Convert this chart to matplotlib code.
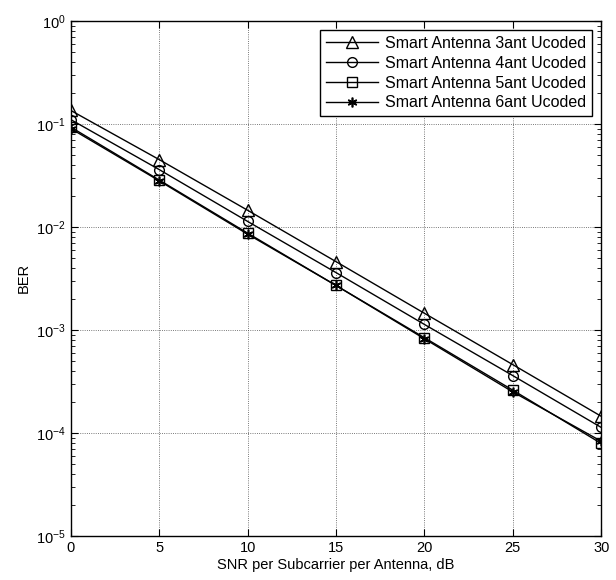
import matplotlib as mpl
mpl.use('Agg')
import matplotlib.pyplot as plt
from matplotlib.ticker import LogLocator, NullFormatter

plt.rcParams['font.family'] = ['Liberation Sans', 'DejaVu Sans']
plt.rcParams['axes.unicode_minus'] = False

snr = [0, 5, 10, 15, 20, 25, 30]
ber_3ant = [0.135, 0.045, 0.0145, 0.0046, 0.00145, 0.00046, 0.000145]
ber_4ant = [0.11, 0.036, 0.0113, 0.0036, 0.00113, 0.00036, 0.000113]
ber_5ant = [0.093, 0.0285, 0.0087, 0.0027, 0.00084, 0.00026, 0.000079]
ber_6ant = [0.09, 0.028, 0.0085, 0.0027, 0.00082, 0.00025, 0.000083]
labels = ['Smart Antenna 3ant Ucoded', 'Smart Antenna 4ant Ucoded',
          'Smart Antenna 5ant Ucoded', 'Smart Antenna 6ant Ucoded']

fig = plt.figure(figsize=(6.16, 5.8), dpi=100)
ax = fig.add_axes([0.115, 0.076, 0.861, 0.888])

kw = dict(color='black', lw=1, markerfacecolor='none', markeredgecolor='black')
ax.semilogy(snr, ber_3ant, marker='^', ms=8, label=labels[0], **kw)
ax.semilogy(snr, ber_4ant, marker='o', ms=7, label=labels[1], **kw)
ax.semilogy(snr, ber_5ant, marker='s', ms=7, label=labels[2], **kw)
ax.semilogy(snr, ber_6ant, marker=(6, 2, 0), ms=7, mew=1.2, label=labels[3], **kw)

ax.set_xlim(0, 30)
ax.set_ylim(1e-5, 1)
ax.set_xticks(snr)
ax.yaxis.set_major_locator(LogLocator(base=10, numticks=10))
ax.yaxis.set_minor_locator(LogLocator(base=10, subs=range(2, 10), numticks=10))
ax.yaxis.set_minor_formatter(NullFormatter())

ax.grid(True, which='major', linestyle=':', color='0.3', lw=0.6)
ax.tick_params(which='both', direction='in', top=True, right=True, labelsize=10.5)
ax.tick_params(which='major', length=5)
ax.tick_params(which='minor', length=3)
for s in ax.spines.values():
    s.set_linewidth(1)

ax.set_xlabel('SNR per Subcarrier per Antenna, dB', fontsize=10.5, labelpad=2)
ax.set_ylabel('BER', fontsize=10.5)

leg = ax.legend(loc='upper right', fontsize=11.5, fancybox=False, framealpha=1,
                edgecolor='black', handlelength=3.3, borderaxespad=0.6,
                labelspacing=0.3, handletextpad=0.4, borderpad=0.35)
leg.get_frame().set_linewidth(1)

fig.savefig('out.png', dpi=100)
